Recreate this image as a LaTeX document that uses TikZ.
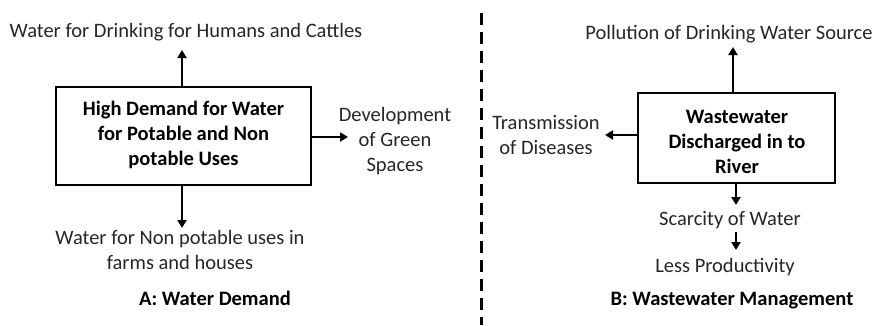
\documentclass[tikz,border=0pt]{standalone}
\usepackage{fontspec}
\setmainfont{Carlito}
\usetikzlibrary{arrows.meta}
\begin{document}
\begin{tikzpicture}[x=1pt,y=-1pt,
  lbl/.style={font=\fontsize{20.5}{25}\selectfont, align=center, inner sep=0pt, text=black!85},
  boxtxt/.style={font=\fontsize{20.5}{25}\selectfont\bfseries, align=center, inner sep=0pt},
  bx/.style={draw, line width=2pt, inner sep=0pt},
  arr/.style={line width=2pt, -{Triangle[length=8pt,width=9pt]}},
  ttl/.style={font=\fontsize{20.5}{25}\selectfont\bfseries, inner sep=0pt}]
\useasboundingbox (0,0) rectangle (881,325);
% Left panel
\node[bx, minimum width=255pt, minimum height=98pt] (boxA) at (183.5,136) {};
\node[boxtxt] (boxAt) at (183.5,135) {High Demand for Water\\for Potable and Non\\potable Uses};
\node[lbl] (topA) at (186,32) {Water for Drinking for Humans and Cattles};
\node[lbl] (rightA) at (395,141.5) {Development\\of Green\\Spaces};
\node[lbl] (botA) at (180,250) {Water for Non potable uses in\\farms and houses};
\node[ttl] (ttlA) at (215,298) {A: Water Demand};
\coordinate (upA) at (182,50);
\coordinate (rA) at (348,137);
\coordinate (dA) at (182,228);
\draw[arr] (boxA.north -| upA) -- (upA);
\draw[arr] (boxA.east |- rA) -- (rA);
\draw[arr] (boxA.south -| dA) -- (dA);
% divider
\coordinate (dv1) at (481,13);
\coordinate (dv2) at (481,325);
\draw[line width=3pt, dash pattern=on 12pt off 7pt] (dv1) -- (dv2);
% Right panel
\node[bx, minimum width=197pt, minimum height=90pt] (boxB) at (736.5,138) {};
\node[boxtxt] (boxBt) at (737,141.5) {Wastewater\\Discharged in to\\River};
\node[lbl] (topB) at (729,34) {Pollution of Drinking Water Source};
\node[lbl] (leftB) at (546,135) {Transmission\\of Diseases};
\node[lbl] (scB) at (730,220) {Scarcity of Water};
\node[lbl] (lpB) at (725,267) {Less Productivity};
\node[ttl] (ttlB) at (732,301) {B: Wastewater Management};
\coordinate (upB) at (733,47);
\coordinate (lB) at (605,135);
\coordinate (dB) at (736,205);
\coordinate (s1) at (736,232);
\coordinate (s2) at (736,250);
\draw[arr] (boxB.north -| upB) -- (upB);
\draw[arr] (boxB.west |- lB) -- (lB);
\draw[arr] (boxB.south -| dB) -- (dB);
\draw[arr] (s1) -- (s2);
\end{tikzpicture}
\end{document}
